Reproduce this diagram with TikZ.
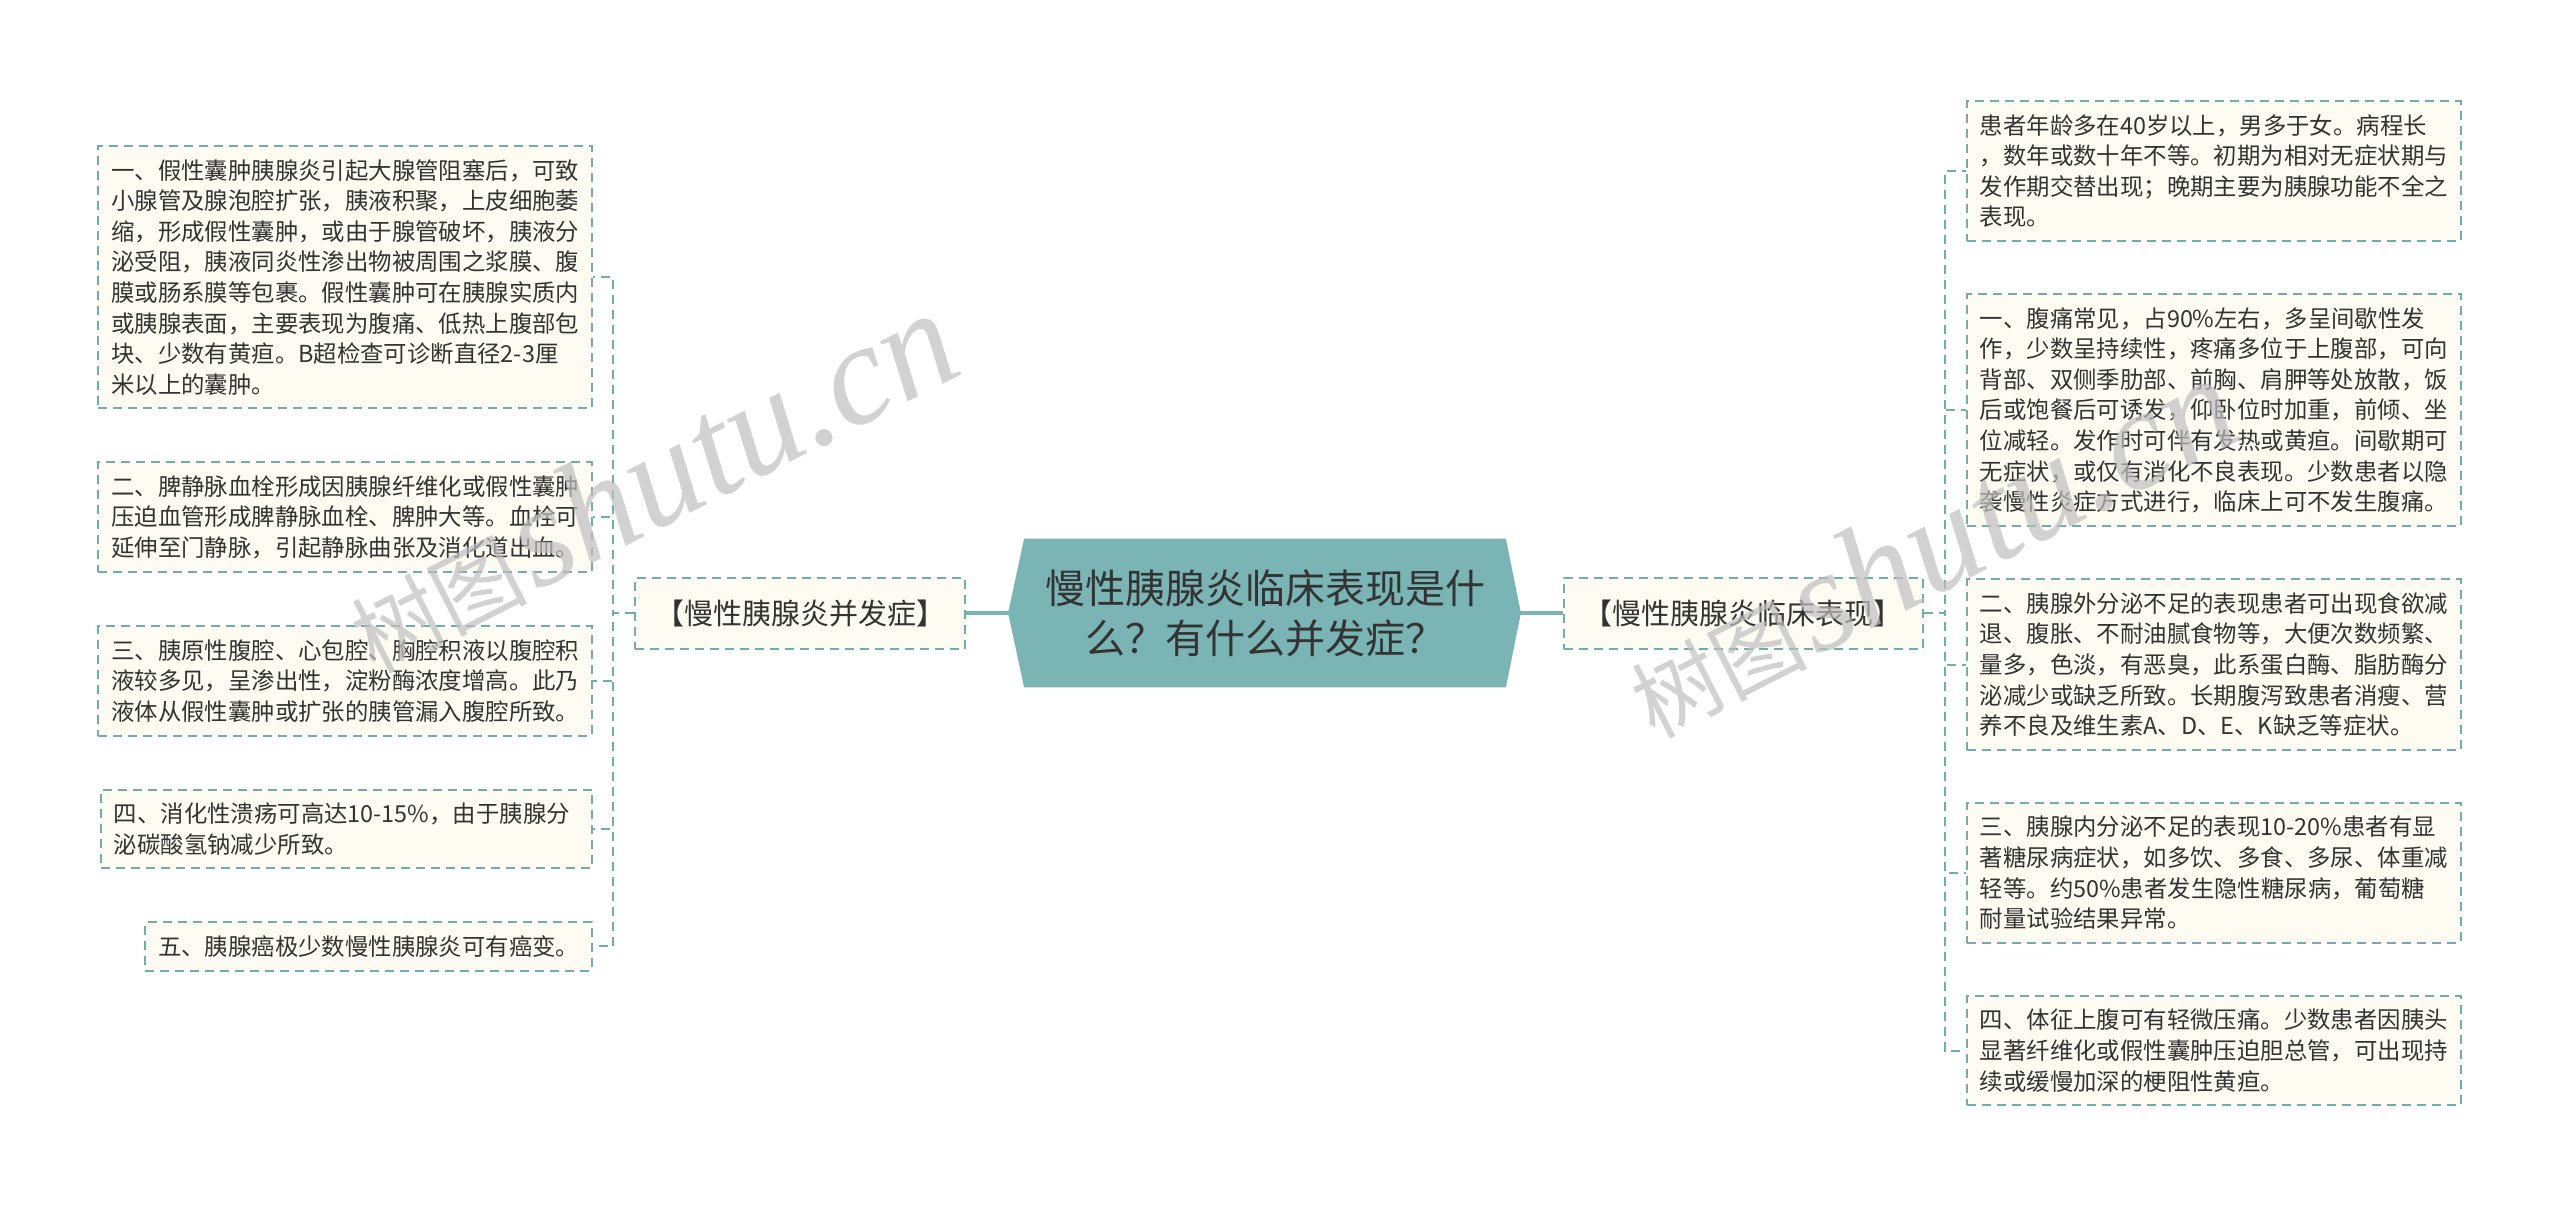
\documentclass[tikz,border=0pt]{standalone}
\usepackage{fontspec}
\usepackage{xcolor}
\usepackage{tikz}
\usetikzlibrary{positioning,backgrounds}
\newfontfamily\cjk{Noto Sans CJK SC}
\newfontfamily\wmserif{Liberation Serif}
\definecolor{rootteal}{HTML}{7BB4B4}
\definecolor{edgeteal}{HTML}{72ACAC}
\definecolor{cream}{HTML}{FDFBF2}
\definecolor{ink}{HTML}{333333}

\begin{document}
\begin{tikzpicture}[x=0.5pt, y=-0.5pt,
  leaf/.style={draw=edgeteal, line width=1pt, dash pattern=on 4.5pt off 3pt, fill=cream, text=ink,
    font=\cjk\fontsize{11.7}{15.3}\selectfont, align=left, inner xsep=6.4pt, inner ysep=6.6pt},
  branch/.style={leaf, font=\cjk\fontsize{14.5}{17}\selectfont, inner xsep=10pt, minimum height=35.5pt},
  link/.style={draw=edgeteal, line width=1pt, dash pattern=on 4.5pt off 3pt},
  trunk/.style={draw=rootteal, line width=2pt},
  toleft/.style={to path={-- ++(-10.5pt,0) |- (\tikztotarget)}},
  toright/.style={to path={-- ++(10.5pt,0) |- (\tikztotarget)}},
  wmark/.style={text=black!25, opacity=0.7, rotate=27, inner sep=0pt}]

  \useasboundingbox (0,0) rectangle (2560,1211);

  % centre
  \node[font=\cjk\fontsize{20}{25}\selectfont, text=ink, align=center,
        minimum width=240.5pt, minimum height=74pt] (root) at (1265,613)
        {慢性胰腺炎临床表现是什\\么？有什么并发症？};
  \begin{pgfonlayer}{background}
    \fill[white] (0,0) rectangle (2560,1211);
    \fill[rootteal] (root.north west) -- (root.north east) -- ([xshift=7.5pt]root.east)
      -- (root.south east) -- (root.south west) -- ([xshift=-8pt]root.west) -- cycle;
  \end{pgfonlayer}

  % branches
  \node[branch, left=29pt of root] (brL) {【慢性胰腺炎并发症】};
  \node[branch, right=28.5pt of root] (brR) {【慢性胰腺炎临床表现】};

  % left leaves
  \node[leaf, anchor=north east] (L1) at (593,145)
    {一、假性囊肿胰腺炎引起大腺管阻塞后，可致\\小腺管及腺泡腔扩张，胰液积聚，上皮细胞萎\\缩，形成假性囊肿，或由于腺管破坏，胰液分\\泌受阻，胰液同炎性渗出物被周围之浆膜、腹\\膜或肠系膜等包裹。假性囊肿可在胰腺实质内\\或胰腺表面，主要表现为腹痛、低热上腹部包\\块、少数有黄疸。B超检查可诊断直径2-3厘\\米以上的囊肿。};
  \node[leaf, below=26pt of L1.south east, anchor=north east] (L2)
    {二、脾静脉血栓形成因胰腺纤维化或假性囊肿\\压迫血管形成脾静脉血栓、脾肿大等。血栓可\\延伸至门静脉，引起静脉曲张及消化道出血。};
  \node[leaf, below=26pt of L2.south east, anchor=north east] (L3)
    {三、胰原性腹腔、心包腔、胸腔积液以腹腔积\\液较多见，呈渗出性，淀粉酶浓度增高。此乃\\液体从假性囊肿或扩张的胰管漏入腹腔所致。};
  \node[leaf, text width=232.7pt, below=26pt of L3.south east, anchor=north east] (L4)
    {四、消化性溃疡可高达10-15\%，由于胰腺分\\泌碳酸氢钠减少所致。};
  \node[leaf, below=26pt of L4.south east, anchor=north east] (L5)
    {五、胰腺癌极少数慢性胰腺炎可有癌变。};

  % right leaves
  \node[leaf, anchor=north west] (R1) at (1966,100)
    {患者年龄多在40岁以上，男多于女。病程长\\，数年或数十年不等。初期为相对无症状期与\\发作期交替出现；晚期主要为胰腺功能不全之\\表现。};
  \node[leaf, below=25.5pt of R1.south west, anchor=north west] (R2)
    {一、腹痛常见，占90\%左右，多呈间歇性发\\作，少数呈持续性，疼痛多位于上腹部，可向\\背部、双侧季肋部、前胸、肩胛等处放散，饭\\后或饱餐后可诱发，仰卧位时加重，前倾、坐\\位减轻。发作时可伴有发热或黄疸。间歇期可\\无症状，或仅有消化不良表现。少数患者以隐\\袭慢性炎症方式进行，临床上可不发生腹痛。};
  \node[leaf, below=25.5pt of R2.south west, anchor=north west] (R3)
    {二、胰腺外分泌不足的表现患者可出现食欲减\\退、腹胀、不耐油腻食物等，大便次数频繁、\\量多，色淡，有恶臭，此系蛋白酶、脂肪酶分\\泌减少或缺乏所致。长期腹泻致患者消瘦、营\\养不良及维生素A、D、E、K缺乏等症状。};
  \node[leaf, below=25.5pt of R3.south west, anchor=north west] (R4)
    {三、胰腺内分泌不足的表现10-20\%患者有显\\著糖尿病症状，如多饮、多食、多尿、体重减\\轻等。约50\%患者发生隐性糖尿病，葡萄糖\\耐量试验结果异常。};
  \node[leaf, below=25.5pt of R4.south west, anchor=north west] (R5)
    {四、体征上腹可有轻微压痛。少数患者因胰头\\显著纤维化或假性囊肿压迫胆总管，可出现持\\续或缓慢加深的梗阻性黄疸。};

  % connectors
  \draw[trunk] (brL.east) -- (root.west) (root.east) -- (brR.west);
  \path[link]
    (brL.west) edge[link, toleft] (L1.east)
               edge[link, toleft] (L2.east)
               edge[link, toleft] (L3.east)
               edge[link, toleft] (L4.east)
               edge[link, toleft] (L5.east)
    (brR.east) edge[link, toright] (R1.west)
               edge[link, toright] (R2.west)
               edge[link, toright] (R3.west)
               edge[link, toright] (R4.west)
               edge[link, toright] (R5.west);

  % watermarks
  \node[wmark] (wm1) at (650,482)
    {{\cjk\fontsize{44}{44}\selectfont 树图} {\wmserif\itshape\fontsize{72}{72}\selectfont shutu.cn}};
  \node[wmark] (wm2) at (1930,547)
    {{\cjk\fontsize{44}{44}\selectfont 树图} {\wmserif\itshape\fontsize{72}{72}\selectfont shutu.cn}};
\end{tikzpicture}
\end{document}
